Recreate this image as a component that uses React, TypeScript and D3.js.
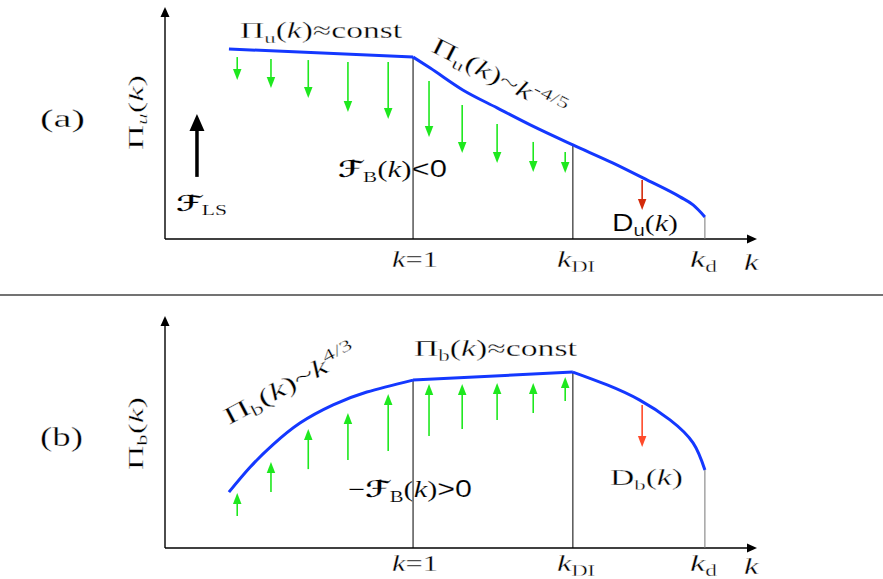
import React, { useLayoutEffect, useRef, useState } from "react";
import * as d3 from "d3";

const W = 883;
const H = 579;
const SERIF = "'Liberation Serif', 'DejaVu Serif', serif";
const SANS = "'Liberation Sans', 'DejaVu Sans', sans-serif";
const SCRIPT = "'DejaVu Serif', 'DejaVu Sans', serif";

// k axis in arbitrary units (0..100)
const kTickValues = [41.9, 68.9, 91.2];

// panel (a): kinetic energy flux
const uConstCurve: [number, number][] = [[10.8, 82.6], [41.9, 79.1]];
const uDecayCurve: [number, number][] = [
  [41.9, 79.1], [44.8, 74.3], [50.3, 64.8], [56.1, 57], [61.7, 49.6],
  [68.9, 40.9], [75.7, 33], [81.4, 25.7], [87, 18.3], [89.2, 14.8], [91.2, 9.6],
];
// panel (b): magnetic energy flux
const bRiseCurve: [number, number][] = [
  [10.8, 24.3], [14.4, 35.2], [18.2, 44.8], [22.8, 54.3], [28.4, 62.2], [34.1, 67.8], [41.9, 73],
];
const bConstCurve: [number, number][] = [[41.9, 73], [68.9, 76.5]];
const bDissCurve: [number, number][] = [
  [68.9, 76.5], [74.7, 70.9], [80.2, 64.3], [85.3, 55.7], [89.2, 45.7], [91.2, 33.9],
];

// green transfer arrows
const arrowX = [12.2, 17.9, 24.2, 30.9, 37.7, 44.6, 50.2, 56.1, 62.2, 67.6];
const uArrowFrom = [79.1, 78.3, 77.8, 77, 77, 68.7, 58.3, 50, 42.2, 37.8];
const uArrowTo = [69.1, 65.7, 61.3, 55.2, 52.2, 44.3, 37.4, 33, 29.1, 28.7];
const bArrowFrom = [13.9, 24.3, 34.3, 38.3, 42.2, 48.7, 51.7, 55.7, 58.7, 63.9];
const bArrowTo = [23.9, 37.4, 51.7, 58.7, 67, 71.3, 71.3, 71.7, 71.7, 74.3];

// dissipation arrows
const dissX = 80.6;
const uDiss = [25.7, 12.6];
const bDiss = [62.2, 43.9];

// large-scale forcing arrow (panel a)
const forceX = 5.4;
const forceY = [27, 54.3];

const BLUE = "#1438ff";
const GREEN = "#1ee81e";

type Seg = { t: string; i?: boolean; s?: boolean; b?: boolean; p?: "sub" | "sup"; f?: string };

function Rich({ parts, size }: { parts: Seg[]; size: number }) {
  let cur = 0;
  return (
    <>
      {parts.map((q, idx) => {
        const off = q.p === "sub" ? size * 0.2 : q.p === "sup" ? -size * 0.4 : 0;
        const dy = off - cur;
        cur = off;
        return (
          <tspan
            key={idx}
            dy={dy}
            fontSize={q.p ? size * 0.68 : size}
            fontStyle={q.i ? "italic" : "normal"}
            fontWeight={q.b ? "bold" : "normal"}
            fontFamily={q.f ? q.f : q.s ? SANS : SERIF}
          >
            {q.t}
          </tspan>
        );
      })}
    </>
  );
}

function FitText({ x, y, w, rot = 0, size, parts, thin = 0.3 }: { x: number; y: number; w: number; rot?: number; size: number; parts: Seg[]; thin?: number }) {
  const ref = useRef<SVGTextElement>(null);
  const [sx, setSx] = useState(1);
  useLayoutEffect(() => {
    const el = ref.current;
    if (!el) return;
    const bb = el.getBBox();
    if (bb.width > 0) setSx(w / bb.width);
  }, [w]);
  return (
    <g transform={`translate(${x},${y}) rotate(${rot}) scale(${sx},1)`}>
      <text ref={ref} x={0} y={0} fontSize={size} fill="#000" stroke="#fff" strokeWidth={thin} fontFamily={SERIF}>
        <Rich parts={parts} size={size} />
      </text>
    </g>
  );
}

function VArrow({ x, y1, y2, color, sw, hw, hl }: { x: number; y1: number; y2: number; color: string; sw: number; hw: number; hl: number }) {
  const dir = Math.sign(y2 - y1);
  const base = y2 - dir * hl;
  return (
    <g>
      <line x1={x} x2={x} y1={y1} y2={base + dir * 1} stroke={color} strokeWidth={sw} />
      <polygon points={`${x},${y2} ${x - hw / 2},${base} ${x + hw / 2},${base}`} fill={color} />
    </g>
  );
}

const xScale = d3.scaleLinear().domain([0, 100]).range([165, 757]);

function Axes({ yBottom, yTip }: { yBottom: number; yTip: number }) {
  const x0 = xScale(0);
  const xTip = 757;
  return (
    <g>
      <line x1={x0} x2={x0} y1={yBottom} y2={yTip + 9} stroke="#000" strokeWidth={1.4} />
      <polygon points={`${x0},${yTip} ${x0 - 4.5},${yTip + 10} ${x0 + 4.5},${yTip + 10}`} fill="#000" />
      <line x1={x0} x2={xTip - 9} y1={yBottom} y2={yBottom} stroke="#000" strokeWidth={1.4} />
      <polygon points={`${xTip},${yBottom} ${xTip - 10},${yBottom - 4.5} ${xTip - 10},${yBottom + 4.5}`} fill="#000" />
    </g>
  );
}

function curveAt(segs: [number, number][][], k: number) {
  for (const s of segs) for (const p of s) if (Math.abs(p[0] - k) < 1e-6) return p[1];
  return 0;
}

const sub = (t: string, extra: Partial<Seg> = {}): Seg => ({ t, p: "sub", ...extra });

function TickLabels({ y }: { y: number }) {
  return (
    <g>
      <FitText x={392} y={y} w={46} size={24} parts={[{ t: "k", i: true }, { t: "=1" }]} />
      <FitText x={557} y={y} w={38} size={24} parts={[{ t: "k", i: true }, sub("DI")]} />
      <FitText x={690} y={y} w={27} size={24} parts={[{ t: "k", i: true }, sub("d")]} />
      <FitText x={744} y={y + 3} w={15} size={24} parts={[{ t: "k", i: true }]} />
    </g>
  );
}

export default function App() {
  const yA = d3.scaleLinear().domain([0, 100]).range([239, 9]);
  const yB = d3.scaleLinear().domain([0, 100]).range([548, 318]);

  const lineA = (c: d3.CurveFactory) => d3.line<[number, number]>().x((d) => xScale(d[0])).y((d) => yA(d[1])).curve(c);
  const lineB = (c: d3.CurveFactory) => d3.line<[number, number]>().x((d) => xScale(d[0])).y((d) => yB(d[1])).curve(c);

  const segsA = [uConstCurve, uDecayCurve];
  const segsB = [bRiseCurve, bConstCurve, bDissCurve];

  return (
    <svg width={W} height={H} style={{ position: "absolute", left: 0, top: 0, background: "#fff" }}>
      <rect width={W} height={H} fill="#fff" />
      {/* separator */}
      <line x1={0} x2={W} y1={295} y2={295} stroke="#444" strokeWidth={1.5} />

      {/* ===== panel (a) ===== */}
      <Axes yBottom={yA(0)} yTip={7} />
      {kTickValues.map((k, i) => (
        <line key={i} x1={xScale(k)} x2={xScale(k)} y1={yA(0)} y2={yA(curveAt(segsA, k))} stroke={i === 2 ? "#777" : "#000"} strokeWidth={1} />
      ))}
      {arrowX.map((x, i) => (
        <VArrow key={i} x={xScale(x)} y1={yA(uArrowFrom[i])} y2={yA(uArrowTo[i])} color={GREEN} sw={1.6} hw={8.5} hl={11} />
      ))}
      <VArrow x={xScale(dissX)} y1={yA(uDiss[0])} y2={yA(uDiss[1])} color="#d42a0a" sw={1.6} hw={8.5} hl={11} />
      <VArrow x={xScale(forceX)} y1={yA(forceY[0])} y2={yA(forceY[1])} color="#000" sw={3.5} hw={15} hl={17} />
      <path d={lineA(d3.curveLinear)(uConstCurve) || ""} fill="none" stroke={BLUE} strokeWidth={3} />
      <path d={lineA(d3.curveMonotoneX)(uDecayCurve) || ""} fill="none" stroke={BLUE} strokeWidth={3} />

      <FitText x={40} y={127} w={45} size={26} parts={[{ t: "(a)" }]} />
      <FitText x={143} y={150} w={75} rot={-90} size={22} parts={[{ t: "Π" }, sub("u", { i: true }), { t: "(" }, { t: "k", i: true }, { t: ")" }]} />
      <FitText x={240} y={38} w={163} size={23} parts={[{ t: "Π" }, sub("u"), { t: "(" }, { t: "k", i: true }, { t: ")≈const" }]} />
      <FitText x={430} y={51} w={148} rot={27} size={24} parts={[{ t: "Π" }, sub("u"), { t: "(" }, { t: "k", i: true }, { t: ")~" }, { t: "k", i: true }, { t: "-4/5", p: "sup" }]} />
      <FitText x={176} y={211} w={51} size={22} parts={[{ t: "ℱ", b: true, f: SCRIPT }, sub("LS")]} thin={0.15} />
      <FitText x={338} y={177} w={109} size={23} parts={[{ t: "ℱ", b: true, f: SCRIPT }, sub("B"), { t: "(" }, { t: "k", i: true }, { t: ")" }, { t: "<0", s: true }]} thin={0.15} />
      <FitText x={612} y={231} w={66} size={23} parts={[{ t: "D", s: true }, sub("u", { s: true }), { t: "(" }, { t: "k", i: true }, { t: ")" }]} thin={0.15} />
      <TickLabels y={267} />

      {/* ===== panel (b) ===== */}
      <g>
        <Axes yBottom={yB(0)} yTip={316} />
        {kTickValues.map((k, i) => (
          <line key={i} x1={xScale(k)} x2={xScale(k)} y1={yB(0)} y2={yB(curveAt(segsB, k))} stroke={i === 2 ? "#777" : "#000"} strokeWidth={1} />
        ))}
        {arrowX.map((x, i) => (
          <VArrow key={i} x={xScale(x)} y1={yB(bArrowFrom[i])} y2={yB(bArrowTo[i])} color={GREEN} sw={1.6} hw={8.5} hl={11} />
        ))}
        <VArrow x={xScale(dissX)} y1={yB(bDiss[0])} y2={yB(bDiss[1])} color="#ff4a2a" sw={1.6} hw={8.5} hl={11} />
        <path d={lineB(d3.curveNatural)(bRiseCurve) || ""} fill="none" stroke={BLUE} strokeWidth={3} />
        <path d={lineB(d3.curveLinear)(bConstCurve) || ""} fill="none" stroke={BLUE} strokeWidth={3} />
        <path d={lineB(d3.curveNatural)(bDissCurve) || ""} fill="none" stroke={BLUE} strokeWidth={3} />

        <FitText x={40} y={446} w={43} size={27} parts={[{ t: "(b)" }]} />
        <FitText x={143} y={470} w={73} rot={-90} size={22} parts={[{ t: "Π" }, sub("b"), { t: "(" }, { t: "k", i: true }, { t: ")" }]} />
        <FitText x={229} y={425} w={146} rot={-28} size={24} parts={[{ t: "Π" }, sub("b"), { t: "(" }, { t: "k", i: true }, { t: ")~" }, { t: "k", i: true }, { t: "4/3", p: "sup" }]} />
        <FitText x={414} y={356} w={164} size={23} parts={[{ t: "Π" }, sub("b"), { t: "(" }, { t: "k", i: true }, { t: ")≈const" }]} />
        <FitText x={348} y={497} w={124} size={23} parts={[{ t: "−" }, { t: "ℱ", b: true, f: SCRIPT }, sub("B"), { t: "(" }, { t: "k", i: true }, { t: ")" }, { t: ">0", s: true }]} thin={0.15} />
        <FitText x={610} y={485} w={73} size={23} parts={[{ t: "D" }, sub("b"), { t: "(" }, { t: "k", i: true }, { t: ")" }]} />
        <TickLabels y={571} />
      </g>
    </svg>
  );
}
